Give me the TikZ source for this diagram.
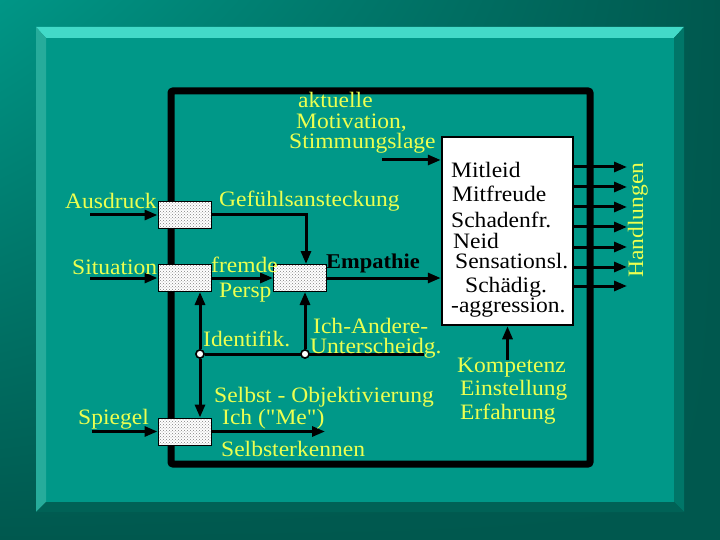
\documentclass[tikz,border=0pt]{standalone}
\usepackage{fontspec}
\newfontfamily\txtfont{Liberation Serif}[FakeStretch=1.07]
\usetikzlibrary{arrows.meta,patterns,shadings}
\definecolor{bgA}{RGB}{0,150,134}
\definecolor{bgB}{RGB}{0,88,78}
\definecolor{panel}{RGB}{0,152,136}
\definecolor{bevT}{RGB}{66,218,200}
\definecolor{bevL}{RGB}{38,172,155}
\definecolor{bevR}{RGB}{0,118,104}
\definecolor{bevB}{RGB}{0,98,86}
\definecolor{ytext}{RGB}{236,255,80}
\begin{document}
\begin{tikzpicture}[x=1pt,y=-1pt,
  ylab/.style={text=ytext, font=\txtfont\fontsize{22}{22}\selectfont, inner sep=0pt, anchor=base west},
  blab/.style={text=black, font=\txtfont\fontsize{22}{22}\selectfont, inner sep=0pt, anchor=base west},
  dbox/.style={draw=black, line width=1pt, minimum width=53pt, minimum height=27pt, inner sep=0pt,
    preaction={fill=white}, pattern=crosshatch dots, pattern color=black!50},
  ebox/.style={draw=black, line width=2.5pt, fill=white, minimum width=131pt, minimum height=188pt, inner sep=0pt},
  arr/.style={line width=3pt, -{Triangle[length=13pt,width=10pt]}},
  ln/.style={line width=3pt},
  junct/.style={circle, draw=black, fill=white, line width=1.5pt, minimum size=8pt, inner sep=0pt}]
\useasboundingbox (0,0) rectangle (720,540);
% background
\shade[upper left=bgA, upper right=bgB, lower left=bgB, lower right=bgB] (0,0) rectangle (720,540);
% bevelled panel
\fill[panel] (46,38) rectangle (674,502);
\fill[bevT] (36,27) -- (684,27) -- (674,38) -- (46,38) -- cycle;
\fill[bevL] (36,27) -- (46,38) -- (46,502) -- (36,512) -- cycle;
\fill[bevR] (684,27) -- (684,512) -- (674,502) -- (674,38) -- cycle;
\fill[bevB] (36,512) -- (684,512) -- (674,502) -- (46,502) -- cycle;
% frame
\draw[line width=7pt, rounded corners=2pt] (171,91) rectangle (590,464);
% boxes
\node[dbox] (b1) at (184.5,215) {};
\node[dbox] (b2) at (184.5,278) {};
\node[dbox] (b3) at (300,278) {};
\node[dbox] (b4) at (184.5,431.5) {};
\node[ebox] (E) at (507.5,231) {};
% free ends
\coordinate (a0) at (90,215);
\coordinate (s0) at (90,278);
\coordinate (p0) at (92,431.5);
\coordinate (m0) at (382,160);
\coordinate (k0) at (507.5,360);
\coordinate (q0) at (424,354);
\coordinate (r0) at (325,431.5);
\foreach \i/\y in {1/167,2/187,3/207,4/227,5/247,6/267,7/286}{
  \coordinate (h\i) at (627,\y);
}
% junctions
\node[junct] (c1) at (200,354) {};
\node[junct] (c2) at (305,354) {};
% connectors
\draw[arr] (a0) -- (b1.west);
\draw[arr] (s0) -- (b2.west);
\draw[arr] (p0) -- (b4.west);
\draw[arr] (b1.east) -| ([xshift=6pt]b3.north);
\draw[arr] (b2.east) -- (b3.west);
\draw[arr] (b3.east) -- (E.west |- b3.east);
\draw[arr] (m0) -- (E.west |- m0);
\draw[arr] (k0) -- (E.south);
\draw[arr] (b4.east) -- (r0);
\draw[ln] (c1) -- (q0);
\draw[arr] (c1) -- (c1 |- b2.south);
\draw[arr] (c2) -- (c2 |- b3.south);
\draw[arr] (c1) -- (c1 |- b4.north);
\foreach \i in {1,...,7}{
  \draw[arr] (E.east |- h\i) -- (h\i);
}
\node[junct] at (c1) {};
\node[junct] at (c2) {};
% emotion texts
\node[blab] (t1) at (451,178) {Mitleid};
\node[blab] (t2) at (452,202) {Mitfreude};
\node[blab] (t3) at (451,227) {Schadenfr.};
\node[blab] (t4) at (453,248) {Neid};
\node[blab] (t5) at (455,268) {Sensationsl.};
\node[blab] (t6) at (465,292) {Schädig.};
\node[blab] (t7) at (451,312) {-aggression.};
% yellow texts
\node[ylab, text depth=0pt] (y1) at (298,108) {aktuelle};
\node[ylab, text depth=0pt, text height=14pt] (y2) at (296,129) {Motivation,};
\node[ylab] (y3) at (289,149) {Stimmungslage};
\node[ylab] (y4) at (65,208) {Ausdruck};
\node[ylab] (y5) at (219,207) {Gefühlsansteckung};
\node[ylab] (y6) at (72,274) {Situation};
\node[ylab] (y7) at (211,272) {fremde};
\node[ylab] (y8) at (219,297) {Persp};
\node[blab, font=\txtfont\fontsize{21}{21}\selectfont\bfseries] (emp) at (326,268) {Empathie};
\node[ylab] (y9) at (203,346) {Identifik.};
\node[ylab, text depth=0pt] (y10) at (313,333) {Ich-Andere-};
\node[ylab] (y11) at (310,353) {Unterscheidg.};
\node[ylab] (y12) at (214,402) {Selbst - Objektivierung};
\node[ylab] (y13) at (222,424) {Ich ("Me")};
\node[ylab] (y14) at (221,456) {Selbsterkennen};
\node[ylab] (y15) at (78,424) {Spiegel};
\node[ylab] (y16) at (457,372) {Kompetenz};
\node[ylab] (y17) at (460,395) {Einstellung};
\node[ylab] (y18) at (460,419) {Erfahrung};
\node[ylab, rotate=90] (y19) at (643,278) {Handlungen};
\end{tikzpicture}
\end{document}
